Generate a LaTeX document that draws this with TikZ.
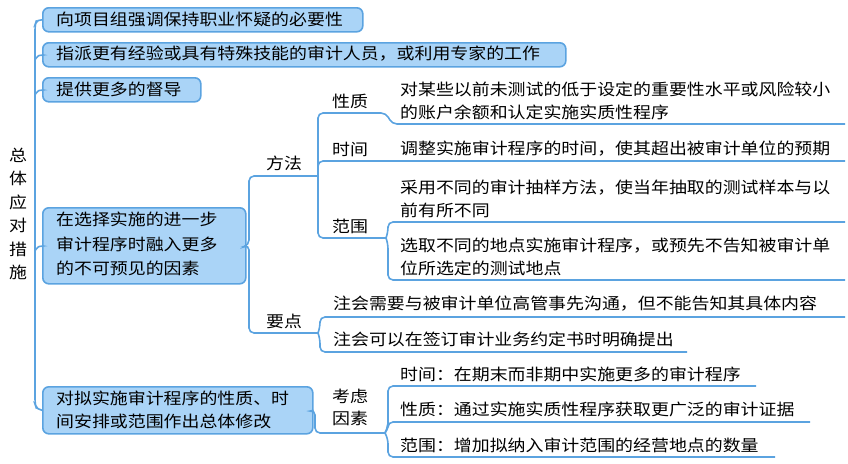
\documentclass[tikz,border=0pt]{standalone}
\usepackage{fontspec}
\setmainfont{Noto Sans CJK SC}[FakeStretch=1.12]
\definecolor{lnc}{RGB}{91,163,224}
\definecolor{bfc}{RGB}{170,212,247}
\begin{document}
\begin{tikzpicture}[x=1pt,y=-1pt, font=\fontsize{16}{23}\selectfont,
 ln/.style={draw=lnc, line width=1.6pt, rounded corners=5pt},
 box/.style={draw=lnc, fill=bfc, line width=1.6pt, rounded corners=6pt, anchor=north west, inner sep=0pt},
 t/.style={anchor=west, inner sep=0pt, align=left},
 lab/.style={inner sep=0pt, align=center}]
\useasboundingbox (0,0) rectangle (848,463);
% root
\node[lab, font=\fontsize{16}{23.5}\selectfont] (root) at (18,214) {总\\体\\应\\对\\措\\施};
% boxes
\node[box, minimum width=320pt, minimum height=24pt] (b1) at (42,7) {};
\node[box, minimum width=523pt, minimum height=24pt] (b2) at (42,42) {};
\node[box, minimum width=158pt, minimum height=24pt] (b3) at (42,77) {};
\node[box, minimum width=203pt, minimum height=76pt] (b4) at (42,207) {};
\node[box, minimum width=270pt, minimum height=47pt] (b5) at (42,386) {};
\node[t] (t1) at (56,19) {向项目组强调保持职业怀疑的必要性};
\node[t] (t2) at (56,54) {指派更有经验或具有特殊技能的审计人员，或利用专家的工作};
\node[t] (t3) at (56,89) {提供更多的督导};
\node[t, font=\fontsize{16}{24.5}\selectfont] (t4) at (56,244) {在选择实施的进一步\\审计程序时融入更多\\的不可预见的因素};
\node[t] (t5) at (56,410) {对拟实施审计程序的性质、时\\间安排或范围作出总体修改};
% trunk
\draw[ln] (b1.west) -- (37,19) -- (35,25) -- (35,404) -- (37,410) -- (b5.west);
\draw[ln] (35,60) -- (38,54) -- (b2.west);
\draw[ln] (35,95) -- (38,89) -- (b3.west);
\draw[ln] (35,251) -- (38,245) -- (b4.west);
% box4 branches
\coordinate (m) at (318,176);
\coordinate (y) at (318,333);
\draw[ln] (b4.east) -- (249,245) |- (m);
\draw[ln] (b4.east) -- (249,245) |- (y);
\node[lab] (lm) at (284,163) {方法};
\node[lab] (ly) at (284,321) {要点};
% 方法 subs
\coordinate (xz) at (386,113);
\coordinate (sj) at (845,161);
\coordinate (fw) at (386,238);
\draw[ln] (m) |- (xz) -- (392,124) -- (845,124);
\draw[ln] (m) |- (sj);
\draw[ln] (m) |- (fw);
\node[lab] (lxz) at (350,101) {性质};
\node[lab] (lsj) at (350,149) {时间};
\node[lab] (lfw) at (350,226) {范围};
\node[t, font=\fontsize{16}{22.5}\selectfont] (txz) at (400,101) {对某些以前未测试的低于设定的重要性水平或风险较小\\的账户余额和认定实施实质性程序};
\node[t] (tsj) at (400,149) {调整实施审计程序的时间，使其超出被审计单位的预期};
\draw[ln] (fw) -- (388,232) |- (845,222);
\draw[ln] (fw) -- (388,244) |- (845,280);
\node[t, font=\fontsize{16}{22.5}\selectfont] (tf1) at (400,199) {采用不同的审计抽样方法，使当年抽取的测试样本与以\\前有所不同};
\node[t, font=\fontsize{16}{22.5}\selectfont] (tf2) at (400,257) {选取不同的地点实施审计程序，或预先不告知被审计单\\位所选定的测试地点};
% 要点 subs
\draw[ln] (y) -- (320,327) |- (845,317);
\draw[ln] (y) -- (320,339) |- (687,352);
\node[t] (ty1) at (333,304) {注会需要与被审计单位高管事先沟通，但不能告知其具体内容};
\node[t] (ty2) at (333,339) {注会可以在签订审计业务约定书时明确提出};
% box5 branches
\coordinate (k) at (385,433);
\draw[ln] (b5.east) -- (315,410) |- (k);
\node[lab, font=\fontsize{16}{22}\selectfont] (lk) at (350,407) {考虑\\因素};
\draw[ln] (k) -- (388,427) |- (756,386);
\draw[ln] (k) -- (388,427) |- (810,422);
\draw[ln] (k) -- (388,439) |- (775,457);
\node[t] (tk1) at (400,374) {时间：在期末而非期中实施更多的审计程序};
\node[t] (tk2) at (400,409) {性质：通过实施实质性程序获取更广泛的审计证据};
\node[t] (tk3) at (400,445) {范围：增加拟纳入审计范围的经营地点的数量};
\end{tikzpicture}
\end{document}
